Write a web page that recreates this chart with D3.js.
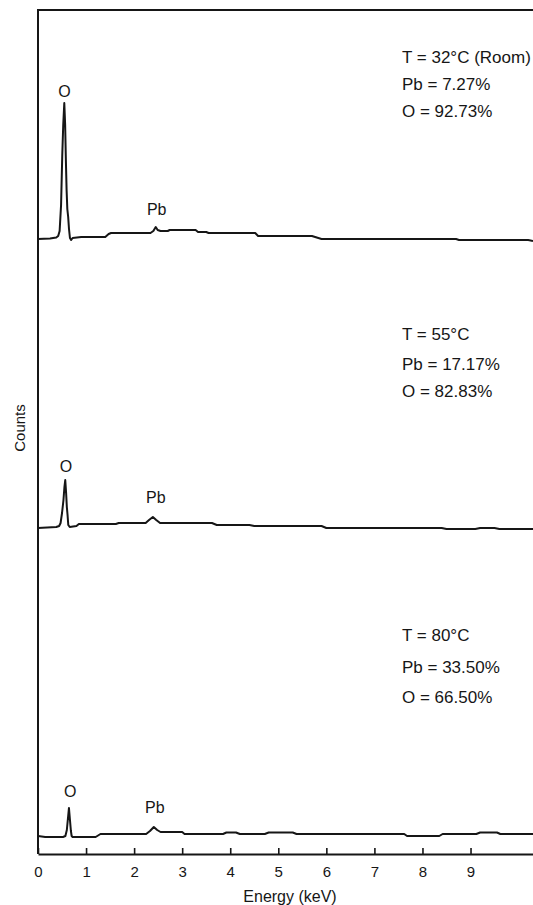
<!DOCTYPE html>
<html>
<head>
<meta charset="utf-8">
<script src="https://cdn.jsdelivr.net/npm/d3@7/dist/d3.min.js"></script>
<style>
  html, body { margin: 0; padding: 0; background: #fff; }
  svg { display: block; }
  text { font-family: "Liberation Sans", Arial, Helvetica, sans-serif; fill: #161616; }
</style>
</head>
<body>
<svg id="chart" width="533" height="905"></svg>
<script>
// ---------------- DATA ----------------
const energyTicks = [0, 1, 2, 3, 4, 5, 6, 7, 8, 9];

// [energy (keV), counts (arb.)]
const spectrumRoom = [
  [0, 6], [0.25, 6.5], [0.38, 7.5], [0.42, 9], [0.45, 14], [0.48, 40], [0.505, 90], [0.525, 120],
  [0.547, 142], [0.565, 120], [0.58, 85], [0.595, 55], [0.61, 36], [0.628, 28], [0.645, 16],
  [0.665, 7], [0.69, 5], [0.72, 7], [0.9, 8], [1.40, 8], [1.47, 11], [1.52, 12], [2.34, 12],
  [2.40, 14], [2.45, 18], [2.49, 15], [2.55, 14], [2.70, 14], [2.74, 15], [3.28, 15], [3.33, 13],
  [3.50, 13], [3.55, 12], [4.52, 12], [4.58, 9], [5.70, 9], [5.90, 6], [8.70, 6], [8.76, 5],
  [10.2, 5], [10.3, 4]
];
const spectrum55 = [
  [0, 7], [0.38, 8], [0.44, 9], [0.47, 12], [0.50, 22], [0.53, 35], [0.55, 48], [0.567, 55],
  [0.585, 42], [0.60, 28], [0.615, 20], [0.63, 10], [0.66, 8], [0.80, 9], [0.85, 11], [1.62, 11],
  [1.68, 12], [2.24, 12], [2.31, 15], [2.39, 18], [2.46, 15], [2.54, 12], [3.62, 12], [3.72, 10],
  [4.40, 10], [4.50, 9], [5.90, 9], [6.00, 7], [8.40, 7], [8.50, 6], [9.10, 6], [9.20, 7],
  [9.50, 7], [9.60, 6], [10.3, 6]
];
const spectrum80 = [
  [0, 9], [0.15, 8], [0.52, 8], [0.57, 9], [0.60, 15], [0.62, 25], [0.644, 37], [0.665, 25],
  [0.685, 14], [0.70, 9], [0.72, 8], [1.20, 8], [1.30, 11], [2.25, 11], [2.33, 14], [2.41, 18],
  [2.48, 15], [2.55, 13], [3.00, 13], [3.05, 11], [3.85, 11], [3.92, 12.5], [4.12, 12.5],
  [4.20, 11], [4.72, 11], [4.80, 12.5], [5.30, 12.5], [5.38, 11], [7.62, 11], [7.68, 9],
  [8.35, 9], [8.42, 11], [9.12, 11], [9.20, 12.5], [9.55, 12.5], [9.62, 11], [10.3, 11]
];

const panelTemps = ["T = 32°C (Room)", "T = 55°C", "T = 80°C"];
const panelPb = ["Pb = 7.27%", "Pb = 17.17%", "Pb = 33.50%"];
const panelO = ["O = 92.73%", "O = 82.83%", "O = 66.50%"];

// peak labels: [text, energy keV] per panel
const peakLabelsRoom = [["O", 0.55], ["Pb", 2.47]];
const peakLabels55 = [["O", 0.58], ["Pb", 2.45]];
const peakLabels80 = [["O", 0.67], ["Pb", 2.43]];

const xLabel = "Energy (keV)";
const yLabel = "Counts";

// ---------------- LAYOUT ----------------
(function () {
  const plotLeft = 38, plotRight = 533, plotTop = 10, axisY = 854;
  const svg = d3.select("#chart");
  const ink = "#161616";

  const x = d3.scaleLinear().domain([0, 10.3]).range([plotLeft, plotRight]);

  const panels = [
    { data: spectrumRoom, labels: peakLabelsRoom, base: 245, labelY: [97, 215], textY: [63, 89.5, 116.5] },
    { data: spectrum55, labels: peakLabels55, base: 535, labelY: [471.5, 502.5], textY: [339.5, 369.5, 396.5] },
    { data: spectrum80, labels: peakLabels80, base: 845, labelY: [797, 813], textY: [640.5, 673, 703] }
  ];

  // frame: top line and left axis
  svg.append("line").attr("x1", plotLeft).attr("x2", plotRight).attr("y1", plotTop).attr("y2", plotTop)
    .attr("stroke", ink).attr("stroke-width", 2);
  svg.append("line").attr("x1", plotLeft).attr("x2", plotLeft).attr("y1", plotTop - 1).attr("y2", axisY)
    .attr("stroke", ink).attr("stroke-width", 2);

  // x axis
  const xAxis = d3.axisBottom(x).tickValues(energyTicks).tickSizeInner(-6).tickSizeOuter(0)
    .tickPadding(12).tickFormat(d3.format("d"));
  const gx = svg.append("g").attr("transform", `translate(0,${axisY})`).call(xAxis);
  gx.select(".domain").attr("stroke", ink).attr("stroke-width", 2);
  gx.selectAll(".tick line").attr("stroke", ink).attr("stroke-width", 1.6);
  gx.selectAll(".tick text").attr("font-size", 15).attr("fill", ink)
    .style("font-family", '"Liberation Sans", Arial, sans-serif');

  svg.append("text").attr("x", 290).attr("y", 902).attr("text-anchor", "middle")
    .attr("font-size", 16).text(xLabel);
  svg.append("text").attr("transform", "translate(25,428) rotate(-90)").attr("text-anchor", "middle")
    .attr("font-size", 15).text(yLabel);

  // spectra
  panels.forEach((p, i) => {
    const y = d3.scaleLinear().domain([0, 150]).range([p.base, p.base - 150]);
    const line = d3.line().x(d => x(d[0])).y(d => y(d[1]));
    svg.append("path").datum(p.data).attr("d", line)
      .attr("fill", "none").attr("stroke", ink).attr("stroke-width", 2)
      .attr("stroke-linejoin", "round");

    p.labels.forEach((l, j) => {
      svg.append("text").attr("x", x(l[1])).attr("y", p.labelY[j])
        .attr("text-anchor", "middle").attr("font-size", 16).text(l[0]);
    });

    const lines = [panelTemps[i], panelPb[i], panelO[i]];
    lines.forEach((t, j) => {
      svg.append("text").attr("x", 402).attr("y", p.textY[j])
        .attr("font-size", 17).text(t);
    });
  });
})();
</script>
</body>
</html>
